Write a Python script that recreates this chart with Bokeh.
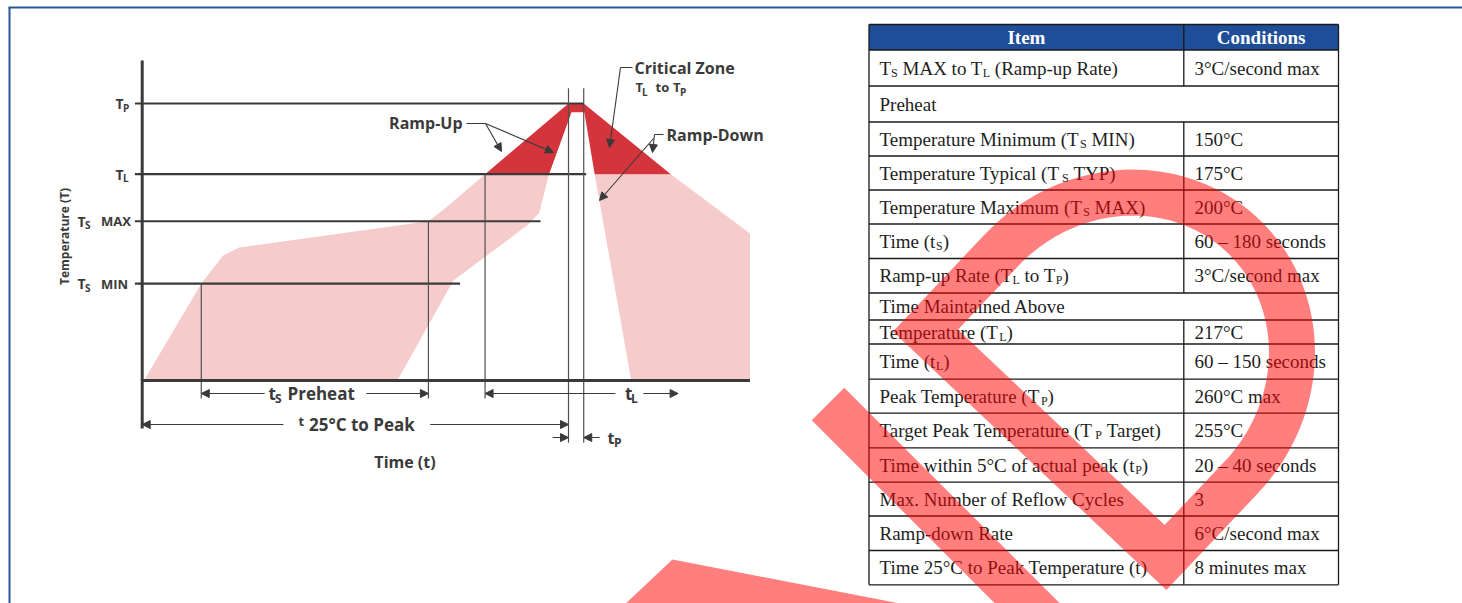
import re
import numpy as np
from bokeh.plotting import figure
from bokeh.models import Range1d, Arrow, NormalHead
from bokeh.core.properties import value
from bokeh.embed import file_html
from bokeh.resources import INLINE

# ---------------- reflow profile (schematic units) ----------------
# temperature levels on a schematic scale: 25 degC baseline = 0, T_P = 100
T_P, T_L, T_S_MAX, T_S_MIN = 100.0, 74.5, 57.5, 35.0
level_values = [T_P, T_L, T_S_MAX, T_S_MIN]
level_main = ["T", "T", "T", "T"]
level_sub = ["P", "L", "S", "S"]
level_suffix = ["", "", "MAX", "MIN"]
level_line_end = [72.5, 72.9, 65.4, 52.2]

# key times (schematic units, 0 = 25 degC)
t_s_start, t_s_end = 9.7, 47.0
t_L_start, t_L_end = 56.3, 88.0
t_p_start, t_p_end = 70.0, 72.5
t_axis_end = 99.8

# ramp-up window (pink)
ramp_up_t = [0.3, 9.7, 13.3, 15.9, 47.0, 49.9, 56.3, 66.8, 65.2, 63.4, 51.1, 41.9]
ramp_up_T = [0.0, 35.0, 45.1, 48.0, 57.5, 62.5, 74.5, 74.5, 60.6, 56.3, 36.1, 0.0]
# critical zone T_L..T_P (red)
crit_t = [56.3, 70.0, 72.5, 86.8, 74.3, 72.6, 70.5, 66.8]
crit_T = [74.5, 100.0, 100.0, 74.5, 74.5, 96.8, 96.8, 74.5]
# ramp-down window (pink)
ramp_down_t = [74.3, 86.8, 99.8, 99.8, 80.3]
ramp_down_T = [74.5, 74.5, 53.1, 0.0, 0.0]

# ---------------- table ----------------
header = ["Item", "Conditions"]
items = [
    "T_{S} MAX to T_{L} (Ramp-up Rate)",
    "Preheat",
    "Temperature Minimum (T_{S} MIN)",
    "Temperature Typical (T_{S} TYP)",
    "Temperature Maximum (T_{S} MAX)",
    "Time (t_{S})",
    "Ramp-up Rate (T_{L} to T_{P})",
    "Time Maintained Above",
    "Temperature (T_{L})",
    "Time (t_{L})",
    "Peak Temperature (T_{P})",
    "Target Peak Temperature (T_{P} Target)",
    "Time within 5°C of actual peak (t_{P})",
    "Max. Number of Reflow Cycles",
    "Ramp-down Rate",
    "Time 25°C to Peak Temperature (t)",
]
conditions = [
    "3°C/second max", None, "150°C", "175°C", "200°C", "60 – 180 seconds",
    "3°C/second max", None, "217°C", "60 – 150 seconds", "260°C max", "255°C",
    "20 – 40 seconds", "3", "6°C/second max", "8 minutes max",
]

# ---------------- layout constants ----------------
W, H = 1462, 603
X0_PX, X_SCALE = 141.7, 6.09      # page x of t=0, px per time unit
Y0_PX, Y_SCALE = 380.0, 2.77      # page y of T=0, px per temperature unit
DARK = "#3a3a3a"
PINK = "#f6cbcb"
RED = "#d4343b"
BLUE = "#1f4e99"

p = figure(width=W, height=H, x_range=Range1d(0, W), y_range=Range1d(H, 0),
           output_backend="svg", toolbar_location=None, min_border=0, title=None,
           x_axis_location=None, y_axis_location=None)
p.grid.visible = False
p.outline_line_color = None
p.background_fill_color = "white"
p.border_fill_color = "white"
p.extra_x_ranges = {"t": Range1d((0 - X0_PX) / X_SCALE, (W - X0_PX) / X_SCALE)}
p.extra_y_ranges = {"T": Range1d((Y0_PX - H) / Y_SCALE, (Y0_PX - 0) / Y_SCALE)}
D = dict(x_range_name="t", y_range_name="T")


def label(x, y, s, size, align="left", font="Open Sans", style="bold", color=DARK,
          angle=0.0, baseline="middle", **kw):
    p.text(x=[x], y=[y], text=[s], text_font=value(font), text_font_size=f"{size}px",
           text_font_style=style, text_color=color, text_align=align,
           text_baseline=baseline, angle=angle, **kw)


def arrow(x0, y0, x1, y1, size=8, width=1.1, **kw):
    p.add_layout(Arrow(end=NormalHead(size=size, fill_color=DARK, line_color=DARK, line_width=1),
                       x_start=x0, y_start=y0, x_end=x1, y_end=y1,
                       line_color=DARK, line_width=width, **kw))


# frame of the page
p.line([8, W], [7, 7], line_color="#2b579a", line_width=2)
p.line([9, 9], [7, H], line_color="#2b579a", line_width=2)

# ---------------- profile diagram ----------------
p.patch(ramp_up_t, ramp_up_T, fill_color=PINK, line_color=None, **D)
p.patch(ramp_down_t, ramp_down_T, fill_color=PINK, line_color=None, **D)
p.patch(crit_t, crit_T, fill_color=RED, line_color=None, **D)

# reference level lines and ticks
p.segment(x0=[0] * 4, y0=level_values, x1=level_line_end, y1=level_values,
          line_color=DARK, line_width=2.2, **D)
p.segment(x0=[-1.2] * 4, y0=level_values, x1=[0] * 4, y1=level_values,
          line_color=DARK, line_width=2.2, **D)
# vertical guide lines
p.segment(x0=[t_s_start, t_s_end, t_L_start, t_p_start, t_p_end],
          y0=[T_S_MIN, T_S_MAX, T_L, 105.5, 105.5],
          x1=[t_s_start, t_s_end, t_L_start, t_p_start, t_p_end],
          y1=[-6.5, -6.5, -6.5, -22.5, -22.5],
          line_color="#505050", line_width=1.2, **D)
# axes
p.segment(x0=[0], y0=[-17.3], x1=[0], y1=[115.5], line_color=DARK, line_width=3, **D)
p.segment(x0=[0], y0=[0], x1=[t_axis_end], y1=[0], line_color=DARK, line_width=3, **D)

# dimension arrows
y_dim1, y_dim2, y_dim3 = -4.7, -15.9, -20.6
arrow(20.1, y_dim1, t_s_start, y_dim1, **D)
arrow(36.8, y_dim1, t_s_end, y_dim1, **D)
arrow(77.7, y_dim1, t_L_start, y_dim1, **D)
arrow(82.3, y_dim1, t_L_end, y_dim1, **D)
arrow(23.2, y_dim2, 0.0, y_dim2, **D)
arrow(47.3, y_dim2, t_p_start, y_dim2, **D)
arrow(67.4, y_dim3, t_p_start, y_dim3, **D)
arrow(75.1, y_dim3, t_p_end, y_dim3, **D)

# level labels
for val, main, sub, suf in zip(level_values, level_main, level_sub, level_suffix):
    xm = 115 if not suf else 77
    label(xm, val, main, 14, y_range_name="T")
    label(xm + 7.5, val, sub, 10, y_range_name="T", y_offset=4)
    if suf:
        label(100.5, val, suf, 13, y_range_name="T")

label(64, 236, "Temperature (T)", 12, align="center", angle=np.pi / 2)

# callouts
label(462, 122, "Ramp-Up", 16, align="right")
p.line([466, 485], [123, 123], line_color=DARK, line_width=1.1)
arrow(485, 123, 501, 151)
arrow(485, 123, 553, 152)

label(634, 67, "Critical Zone", 16)
label(635, 86, "T", 13)
label(641.5, 91, "L", 10)
label(655, 86, "to", 13)
label(672.5, 86, "T", 13)
label(679.5, 91, "P", 10)
p.line([632, 620], [67, 67], line_color=DARK, line_width=1.1)
arrow(620, 67, 609, 147)

label(666, 134, "Ramp-Down", 16)
p.line([663, 654], [134, 134], line_color=DARK, line_width=1.1)
arrow(654, 134, 652, 152)
arrow(653, 138, 599, 200)

# dimension labels
label(268, 393, "t", 17)
label(274.5, 398, "S", 12)
label(287, 393, "Preheat", 17)
label(624.5, 393, "t", 17)
label(630.5, 398, "L", 12)
label(298, 420, "t", 13)
label(308.5, 424, "25°C to Peak", 17)
label(607, 437, "t", 16)
label(613.5, 442, "P", 12)
label(404.5, 461, "Time (t)", 16, align="center")

# ---------------- table ----------------
row_edges = [24, 49.5, 85.5, 121.5, 155.5, 189.5, 223.5, 258, 292.5, 319.5, 343.5,
             378.7, 412.7, 447.3, 481.7, 515.5, 550, 584.3]
TX0, TX1, TXD = 868.5, 1338.0, 1183.3
LINE = "#1a1a1a"

p.quad(left=[TX0], right=[TX1], top=[row_edges[0]], bottom=[row_edges[1]],
       fill_color=BLUE, line_color=None)
p.segment(x0=[TX0] * len(row_edges), y0=row_edges, x1=[TX1] * len(row_edges), y1=row_edges,
          line_color=LINE, line_width=1.3)
p.segment(x0=[TX0, TX1], y0=[row_edges[0]] * 2, x1=[TX0, TX1], y1=[row_edges[-1]] * 2,
          line_color=LINE, line_width=1.3)
div_rows = [0] + [i + 1 for i, c in enumerate(conditions) if c is not None]
p.segment(x0=[TXD] * len(div_rows), y0=[row_edges[i] for i in div_rows],
          x1=[TXD] * len(div_rows), y1=[row_edges[i + 1] for i in div_rows],
          line_color=LINE, line_width=1.3)

label((TX0 + TXD) / 2, (row_edges[0] + row_edges[1]) / 2, header[0], 19, align="center",
      font="Liberation Serif", color="white")
label((TXD + TX1) / 2, (row_edges[0] + row_edges[1]) / 2, header[1], 19, align="center",
      font="Liberation Serif", color="white")

TW = {' ': 250, '(': 333, ')': 333, '-': 333, '.': 250, '/': 278, '°': 400, '–': 500}
TW.update({d: 500 for d in "0123456789"})
TW.update(dict(zip("ABCDEFGHIJKLMNOPQRSTUVWXYZ",
                   [722, 667, 667, 722, 611, 556, 722, 722, 333, 389, 722, 611, 889, 722,
                    722, 556, 722, 667, 556, 611, 722, 722, 944, 722, 722, 611])))
TW.update(dict(zip("abcdefghijklmnopqrstuvwxyz",
                   [444, 500, 444, 500, 444, 333, 500, 500, 278, 278, 500, 278, 778, 500,
                    500, 500, 500, 333, 389, 278, 500, 500, 722, 500, 500, 444])))


def tw(s, size):
    return sum(TW.get(c, 500) for c in s) * size / 1000


def segments(s):
    out = []
    for part in re.split(r"(_\{[^}]*\})", s):
        if part:
            out.append((part[2:-1], True) if part.startswith("_{") else (part, False))
    return out


MAIN, SUB = 19, 12
mx, my, mt, sx, sy, st = [], [], [], [], [], []
for i, (item, cond) in enumerate(zip(items, conditions)):
    yc = (row_edges[i + 1] + row_edges[i + 2]) / 2
    x = 879.0
    for txt, is_sub in segments(item):
        size = SUB if is_sub else MAIN
        lead = len(txt) - len(txt.lstrip(" "))
        x += tw(" " * lead, size)
        body = txt.strip(" ")
        if body:
            if is_sub:
                sx.append(x); sy.append(yc + 4.5); st.append(body)
            else:
                mx.append(x); my.append(yc); mt.append(body)
        x += tw(txt.lstrip(" "), size)
    if cond is not None:
        mx.append(1194.0); my.append(yc); mt.append(cond)

p.text(x=mx, y=my, text=mt, text_font=value("Liberation Serif"), text_font_size=f"{MAIN}px",
       text_color="#1e1e1e", text_baseline="middle", text_align="left")
p.text(x=sx, y=sy, text=st, text_font=value("Liberation Serif"), text_font_size=f"{SUB}px",
       text_color="#1e1e1e", text_baseline="middle", text_align="left")

# ---------------- watermark (semi-transparent red strokes) ----------------
WM_W = 46
C1 = np.array([925.0, 330.0])
C2 = np.array([1165.0, 557.0])
u = (C1 - C2) / np.linalg.norm(C1 - C2)
nrm = np.array([-u[1], u[0]])
if nrm[1] > 0:
    nrm = -nrm
ARM = 110.0
BULGE = 177.0
A1, B1 = C1 + ARM * nrm, C2 + ARM * nrm
Cc = (A1 + B1) / 2
R = np.linalg.norm(A1 - B1) / 2
th = np.linspace(0, np.pi, 80)
arc = Cc[None, :] + np.outer(R * np.cos(th), u) + np.outer(BULGE * np.sin(th), nrm)
M0 = (C1 + C2) / 2 + 0.1 * (C2 - C1)
path = np.vstack([M0, C1, A1, arc, B1, C2, (C1 + C2) / 2 - 0.1 * (C2 - C1)])
p.line(path[:, 0], path[:, 1], line_color="red", line_alpha=0.5, line_width=WM_W,
       line_join="miter", line_cap="butt")
p.line([827.5, 1060.0], [403.5, 636.0], line_color="red", line_alpha=0.5, line_width=WM_W,
       line_cap="butt")
p.patch([672, 915, 622], [559, 606, 606], fill_color="red", fill_alpha=0.5, line_color=None)

open("out.html", "w").write(file_html(p, INLINE))
